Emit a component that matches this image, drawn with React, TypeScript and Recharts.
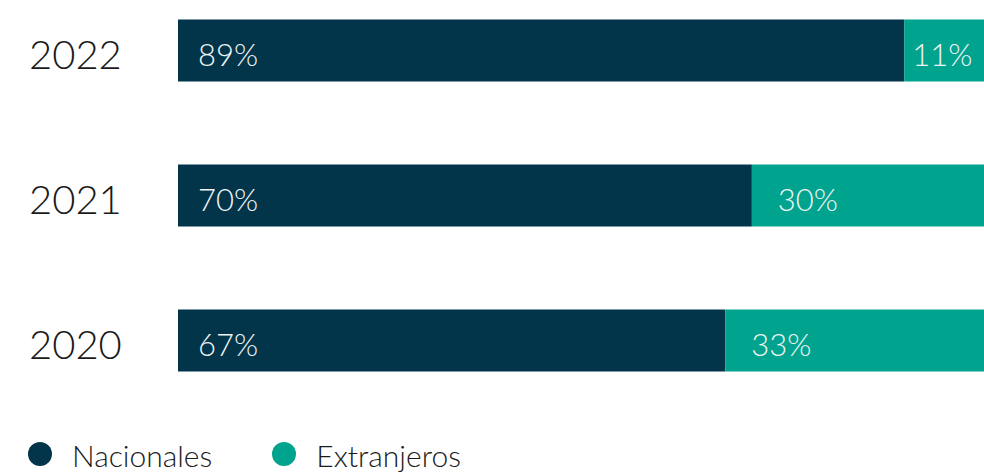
import React from "react";
import { BarChart, Bar, XAxis, YAxis, Legend, LabelList } from "recharts";

const years = ["2022", "2021", "2020"];
const nacionales = [90.1, 71.2, 67.9];
const extranjeros = [9.9, 28.8, 32.1];
const nacionalesLabels = ["89%", "70%", "67%"];
const extranjerosLabels = ["11%", "30%", "33%"];

const DARK = "#02354a";
const TEAL = "#00a38d";
const FONT = "Lato, 'Open Sans', sans-serif";

const data = years.map((year, i) => ({
  year,
  nacionales: nacionales[i],
  extranjeros: extranjeros[i],
}));

function YearTick(props: any) {
  const { y, payload } = props;
  return (
    <text x={29} y={y + 5} dy="0.36em" textAnchor="start" fill="#1a1a1a" fontSize={40} fontWeight={300} fontFamily={FONT}>
      {payload.value}
    </text>
  );
}

function makeLabel(labels: string[], narrowPad: number, pad: number) {
  return (props: any) => {
    const { x, y, width, height, index } = props;
    const off = width < 100 ? narrowPad : pad;
    return (
      <text x={x + off} y={y + height / 2 + 4} dy="0.36em" fill="#eef3f4" fontSize={31} fontWeight={300} fontFamily={FONT}>
        {labels[index]}
      </text>
    );
  };
}

function LegendContent() {
  const items = [
    { name: "Nacionales", color: DARK },
    { name: "Extranjeros", color: TEAL },
  ];
  return (
    <div style={{ display: "flex", height: 40, fontFamily: FONT, fontWeight: 300, fontSize: 30, color: "#1a1a1a" }}>
      {items.map((it, i) => (
        <div key={it.name} style={{ display: "flex", alignItems: "center", marginLeft: i === 0 ? 28 : 60 }}>
          <span style={{ width: 24, height: 24, borderRadius: 12, background: it.color, display: "inline-block", marginRight: 20 }} />
          <span style={{ position: "relative", top: 1 }}>{it.name}</span>
        </div>
      ))}
    </div>
  );
}

export default function App() {
  return (
    <div style={{ position: "absolute", left: 0, top: 0, width: 984, height: 476, background: "#fff", overflow: "hidden" }}>
      <BarChart
        width={984}
        height={476}
        data={data}
        layout="vertical"
        margin={{ top: -22.5, right: 0, bottom: 23.5, left: 0 }}
        barSize={62}
      >
        <XAxis type="number" domain={[0, 100]} hide />
        <YAxis type="category" dataKey="year" width={178} axisLine={false} tickLine={false} tick={<YearTick />} />
        <Legend
          verticalAlign="bottom"
          content={<LegendContent />}
          wrapperStyle={{ top: 434, bottom: "auto", left: 0, width: 984, height: 40 }}
        />
        <Bar dataKey="nacionales" stackId="a" fill={DARK} isAnimationActive={false}>
          <LabelList dataKey="nacionales" content={makeLabel(nacionalesLabels, 20, 20)} />
        </Bar>
        <Bar dataKey="extranjeros" stackId="a" fill={TEAL} isAnimationActive={false}>
          <LabelList dataKey="extranjeros" content={makeLabel(extranjerosLabels, 8, 26)} />
        </Bar>
      </BarChart>
    </div>
  );
}
